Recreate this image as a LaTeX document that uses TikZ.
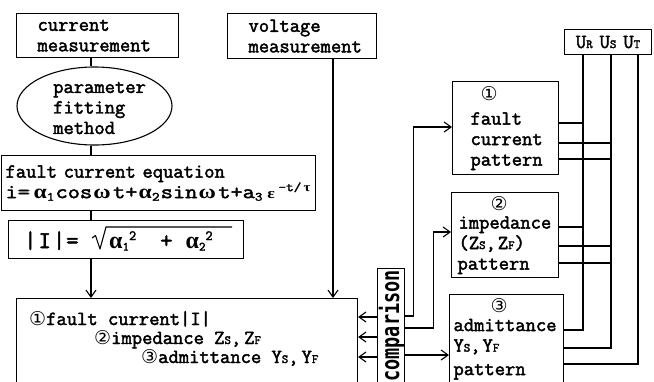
\documentclass[tikz,border=0pt]{standalone}
\usepackage{fontspec}
\usepackage{graphicx}
\newfontfamily\symf{DejaVu Sans}
\newfontfamily\gothf{DejaVu Sans Mono}
\newfontfamily\grk{Liberation Serif}
\newfontfamily\mono{Latin Modern Mono}[FakeBold=2.2]
\usetikzlibrary{arrows.meta,shapes.geometric}
\newcommand\fnt{\mono\fontsize{20}{20.5}\selectfont}
\newcommand\smc[1]{{\fontsize{12.5}{12.5}\selectfont #1}}
\newcommand\mysub[1]{\raisebox{-2.5pt}{\fontsize{12.5}{12.5}\selectfont #1}}
\newcommand\mysup[1]{\raisebox{7pt}{\fontsize{12.5}{12.5}\selectfont #1}}
\newcommand\cn[1]{{\symf\fontsize{19}{19}\selectfont #1}}
\begin{document}
\begin{tikzpicture}[x=1pt,y=-1pt,
  bx/.style={draw, line width=1.1pt, anchor=north west, inner ysep=0pt, align=left, font=\fnt},
  ln/.style={line width=1.1pt},
  arr/.style={line width=1.1pt, -{Straight Barb[length=7pt,width=10pt]}},
  txt/.style={inner sep=0pt, font=\fnt, anchor=base west}]
\clip (0,0) rectangle (654,381);
% left column
\node[bx, inner xsep=21pt, text width=120pt, minimum height=44pt] (cur) at (16,13) {current\\measurement};
\node[ellipse, draw, line width=1.1pt, minimum width=155pt, minimum height=78pt, inner sep=0pt] (ell) at (94.5,106) {};
\node[txt, anchor=west, align=left] (ellt) at (53,108) {parameter\\fitting\\method};
\node[bx, inner xsep=4pt, text width=306pt, minimum height=55pt] (eq) at (1,155) {fault current equation\\\resizebox{305pt}{\height}{i=\hspace{3pt}{\grk\bfseries α}\mysub{1}\hspace{1pt}cos\hspace{1pt}{\grk\bfseries ω}\hspace{2pt}t+\hspace{1pt}{\grk\bfseries α}\mysub{2}\hspace{1pt}sin\hspace{1pt}{\grk\bfseries ω}\hspace{2pt}t+a\mysub{3}\hspace{4pt}{\grk\bfseries\fontsize{15}{15}\selectfont ε}\hspace{3pt}\mysup{-t/\hspace{2pt}{\grk\bfseries τ}}}};
\node[bx, inner xsep=19pt, text width=197pt, minimum height=38pt] (Iabs) at (8,220) {};
\node[txt, font=\mono\fontsize{24}{24}\selectfont] (Ilhs) at (24,248) {|\hspace{2pt}I\hspace{2pt}|\hspace{1pt}=};
\node[txt, font=\mono\fontsize{24}{24}\selectfont] (Irad) at (109,248) {{\grk\bfseries α}\mysub{1}\raisebox{8pt}{\fontsize{14}{14}\selectfont 2}\hspace{24pt}+\hspace{13pt}{\grk\bfseries α}\mysub{2}\raisebox{8pt}{\fontsize{14}{14}\selectfont 2}};
\draw[line width=1.1pt, line join=round] (92,238) -- (95.5,235.5) -- (100,249) -- (106,227) -- (232,227);
\node[bx, inner xsep=21pt, text width=107pt, minimum height=45pt] (volt) at (227,13) {voltage\\measurement};
% result box
\node[draw, line width=1.1pt, anchor=north west, inner sep=0pt, minimum width=341pt, minimum height=95pt] (res) at (16,298) {};
\node[txt] (r1) at (29,325) {\cn{①}fault current|I|};
\node[txt] (r2) at (94,344) {\cn{②}impedance Z\smc{S},\hspace{3pt}Z\smc{F}};
\node[txt] (r3) at (141,363) {\cn{③}admittance Y\smc{S},\hspace{3pt}Y\smc{F}};
% comparison
\node[draw, line width=1.1pt, anchor=north west, inner sep=0pt, minimum width=27pt, minimum height=125pt] (cmp) at (377,268) {};
\node[rotate=90, anchor=base east, inner sep=0pt, font=\gothf\bfseries\fontsize{18.5}{18.5}\selectfont] (cmpt) at (399,270) {\scalebox{1}[1.35]{comparison}};
% pattern boxes
\node[bx, inner xsep=18pt, text width=70pt, minimum height=93pt] (p1) at (452,81) {\hspace*{10pt}\cn{①}\\[4pt]fault\\current\\pattern};
\node[bx, inner xsep=6pt, text width=95pt, minimum height=85pt] (p2) at (451,192) {\hspace*{33pt}\cn{②}\\[-2pt]\hspace*{1pt}impedance\\\hspace*{1pt}(Z\smc{S},\hspace{2pt}Z\smc{F})\\pattern};
\node[bx, inner xsep=4pt, text width=106pt, minimum height=89pt] (p3) at (449,294) {\hspace*{37pt}\cn{③}\\[-2pt]admittance\\Y\smc{S},\hspace{2pt}Y\smc{F}\\[3pt]pattern};
\node[draw, line width=1.1pt, anchor=north west, inner sep=0pt, minimum width=87pt, minimum height=25pt, font=\fnt] (ubox) at (564,29) {U\smc{R}\hspace{7pt}U\smc{S}\hspace{7pt}U\smc{T}};
% helper coordinates
\coordinate (spine) at (91,0);
\coordinate (vx) at (333,0);
\coordinate (xR) at (583,0);
\coordinate (xS) at (611,0);
\coordinate (xT) at (638,0);
% connectors
\draw[ln] (spine |- cur.south) -- (spine |- ell.north);
\draw[ln] (spine |- ell.south) -- (spine |- eq.north);
\draw[ln] (spine |- eq.south) -- (spine |- Iabs.north);
\draw[arr] (spine |- Iabs.south) -- (spine |- res.north);
\draw[arr] (vx |- volt.south) -- (vx |- res.north);
\foreach \yy in {317,337,357} \draw[arr] (cmp.west |- 0,\yy) -- (res.east |- 0,\yy);
\draw[arr] (cmp.east |- 0,316) -- ++(8,0) |- (p1.west |- 0,127);
\draw[arr] (cmp.east |- 0,328) -- ++(28,0) |- (p2.west |- 0,232);
\draw[arr] (cmp.east |- 0,355) -- (p3.west |- 0,355);
\draw[ln] (xR |- ubox.south) |- (p3.east |- 0,330);
\draw[ln] (xS |- ubox.south) |- (p3.east |- 0,348);
\draw[ln] (xT |- ubox.south) |- (p3.east |- 0,364);
\draw[ln] (p1.east |- 0,123) -- (xR |- 0,123);
\draw[ln] (p1.east |- 0,143) -- (xS |- 0,143);
\draw[ln] (p1.east |- 0,159) -- (xS |- 0,159);
\draw[ln] (p2.east |- 0,227) -- (xR |- 0,227);
\draw[ln] (p2.east |- 0,246) -- (xS |- 0,246);
\draw[ln] (p2.east |- 0,263) -- (xS |- 0,263);
\end{tikzpicture}
\end{document}
